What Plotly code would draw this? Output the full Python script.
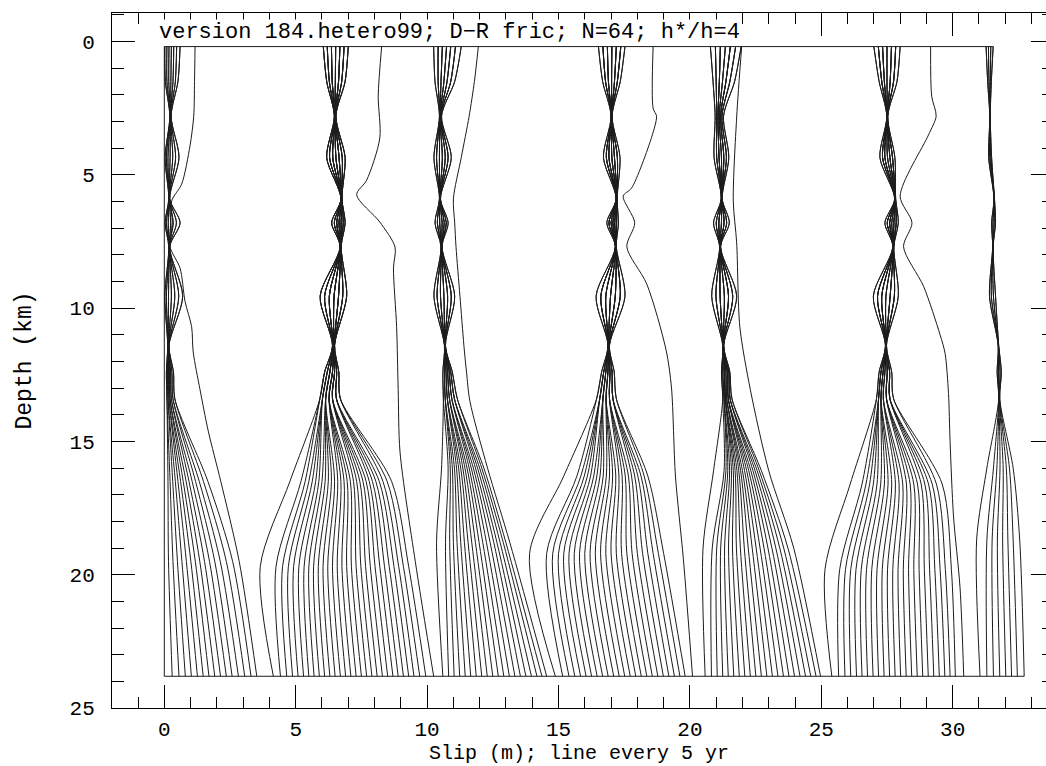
import plotly.graph_objects as go

# ---------------- data ----------------
# depth nodes (km) used by the shallow "locked" cluster profiles
profile_depths = [0.19, 1.5, 2.8, 4.35, 5.9, 6.8, 7.7, 9.55, 11.4, 12.4, 13.4]
top_depth = 0.19
bottom_depth = 23.81

# slip (m) of the lens-shaped profiles of each locked cluster, at profile_depths
cluster_A = [
    [0.02, 0.04, 0.21, 0.03, 0.17, 0.03, 0.17, 0.02, 0.13, 0.08, 0.10],
    [0.10, 0.10, 0.22, 0.08, 0.18, 0.08, 0.18, 0.08, 0.14, 0.12, 0.14],
    [0.18, 0.17, 0.23, 0.14, 0.18, 0.15, 0.18, 0.16, 0.15, 0.16, 0.18],
    [0.27, 0.25, 0.24, 0.22, 0.19, 0.24, 0.19, 0.27, 0.16, 0.20, 0.22],
    [0.36, 0.33, 0.24, 0.32, 0.19, 0.34, 0.19, 0.40, 0.16, 0.24, 0.27],
    [0.47, 0.42, 0.25, 0.43, 0.20, 0.46, 0.20, 0.55, 0.17, 0.29, 0.33],
    [0.60, 0.52, 0.26, 0.56, 0.21, 0.60, 0.21, 0.70, 0.18, 0.35, 0.40],
]
cluster_B = [
    [6.05, 6.18, 6.47, 6.18, 6.72, 6.37, 6.69, 5.93, 6.40, 6.10, 5.92],
    [6.20, 6.28, 6.48, 6.29, 6.73, 6.47, 6.70, 6.10, 6.41, 6.20, 6.02],
    [6.36, 6.39, 6.49, 6.41, 6.73, 6.56, 6.70, 6.28, 6.42, 6.30, 6.14],
    [6.52, 6.51, 6.50, 6.53, 6.74, 6.65, 6.71, 6.46, 6.44, 6.40, 6.27],
    [6.68, 6.63, 6.51, 6.65, 6.75, 6.73, 6.72, 6.63, 6.46, 6.48, 6.40],
    [6.84, 6.75, 6.52, 6.77, 6.75, 6.81, 6.72, 6.79, 6.47, 6.56, 6.55],
    [7.00, 6.88, 6.53, 6.88, 6.76, 6.88, 6.73, 6.94, 6.48, 6.64, 6.70],
]
cluster_C = [
    [10.25, 10.30, 10.47, 10.26, 10.47, 10.30, 10.53, 10.26, 10.66, 10.60, 10.62],
    [10.42, 10.42, 10.48, 10.36, 10.48, 10.39, 10.54, 10.38, 10.67, 10.66, 10.69],
    [10.58, 10.53, 10.49, 10.47, 10.48, 10.48, 10.54, 10.51, 10.67, 10.72, 10.77],
    [10.74, 10.64, 10.50, 10.58, 10.49, 10.57, 10.55, 10.64, 10.68, 10.78, 10.85],
    [10.90, 10.76, 10.52, 10.69, 10.50, 10.65, 10.56, 10.78, 10.69, 10.84, 10.94],
    [11.08, 10.90, 10.53, 10.80, 10.50, 10.73, 10.56, 10.92, 10.69, 10.90, 11.04],
    [11.30, 11.05, 10.55, 10.92, 10.51, 10.80, 10.57, 11.05, 10.70, 10.96, 11.15],
]
cluster_D = [
    [16.52, 16.68, 17.00, 16.71, 17.19, 16.84, 17.16, 16.43, 16.88, 16.64, 16.45],
    [16.69, 16.79, 17.01, 16.82, 17.20, 16.92, 17.17, 16.61, 16.89, 16.72, 16.57],
    [16.86, 16.90, 17.01, 16.92, 17.20, 17.00, 17.17, 16.80, 16.89, 16.80, 16.69],
    [17.03, 17.02, 17.02, 17.03, 17.21, 17.07, 17.18, 16.98, 16.90, 16.88, 16.81],
    [17.20, 17.13, 17.03, 17.13, 17.22, 17.14, 17.19, 17.16, 16.91, 16.96, 16.94],
    [17.37, 17.24, 17.03, 17.24, 17.22, 17.21, 17.19, 17.35, 16.93, 17.04, 17.07],
    [17.53, 17.35, 17.04, 17.34, 17.23, 17.28, 17.20, 17.53, 16.94, 17.12, 17.20],
]
cluster_E = [
    [20.78, 20.88, 20.96, 20.92, 21.19, 20.90, 21.13, 20.83, 21.25, 21.20, 21.25],
    [20.97, 21.00, 21.02, 21.02, 21.20, 21.00, 21.14, 20.99, 21.26, 21.25, 21.30],
    [21.16, 21.12, 21.07, 21.11, 21.20, 21.10, 21.14, 21.15, 21.26, 21.31, 21.35],
    [21.35, 21.24, 21.12, 21.20, 21.21, 21.20, 21.15, 21.31, 21.27, 21.37, 21.40],
    [21.54, 21.37, 21.17, 21.29, 21.22, 21.30, 21.16, 21.47, 21.27, 21.43, 21.46],
    [21.74, 21.52, 21.22, 21.39, 21.22, 21.40, 21.16, 21.63, 21.28, 21.48, 21.53],
    [21.95, 21.70, 21.28, 21.48, 21.23, 21.50, 21.17, 21.78, 21.29, 21.52, 21.60],
]
cluster_F = [
    [27.00, 27.20, 27.49, 27.23, 27.79, 27.42, 27.72, 26.98, 27.44, 27.20, 27.10],
    [27.17, 27.30, 27.50, 27.33, 27.80, 27.51, 27.73, 27.14, 27.45, 27.27, 27.18],
    [27.33, 27.40, 27.50, 27.42, 27.80, 27.60, 27.73, 27.30, 27.45, 27.35, 27.27],
    [27.50, 27.50, 27.51, 27.52, 27.81, 27.68, 27.74, 27.46, 27.46, 27.42, 27.36],
    [27.67, 27.62, 27.52, 27.61, 27.82, 27.76, 27.75, 27.62, 27.47, 27.51, 27.48],
    [27.83, 27.75, 27.52, 27.71, 27.82, 27.85, 27.75, 27.78, 27.47, 27.60, 27.61],
    [28.00, 27.88, 27.53, 27.80, 27.83, 27.93, 27.76, 27.93, 27.48, 27.68, 27.75],
]
cluster_G = [
    [31.27, 31.33, 31.41, 31.37, 31.57, 31.48, 31.52, 31.40, 31.73, 31.69, 31.75],
    [31.36, 31.38, 31.42, 31.41, 31.58, 31.53, 31.53, 31.47, 31.74, 31.74, 31.76],
    [31.45, 31.43, 31.42, 31.45, 31.58, 31.58, 31.53, 31.55, 31.74, 31.80, 31.78],
    [31.54, 31.47, 31.43, 31.48, 31.59, 31.63, 31.54, 31.63, 31.75, 31.85, 31.79],
]

# deep part of every 5-yr line of each interseismic fan:
# slip at the fan's mid depth, at its kink depth and at the bottom cell
fan_mid_depths = [16.5, 16.5, 16.0, 16.3, 16.1, 16.6, 16.0]
fan_kink_depths = [19.5, 19.7, 18.8, 19.2, 19.0, 19.8, 18.7]

fanA_mid = [0.14, 0.22, 0.32, 0.42, 0.52, 0.62, 0.72, 0.83, 0.94, 1.06, 1.19, 1.33, 1.49, 1.66]
fanA_kink = [0.16, 0.33, 0.50, 0.67, 0.84, 1.01, 1.18, 1.35, 1.53, 1.72, 1.92, 2.13, 2.36, 2.60]
fanA_bot = [0.30, 0.56, 0.80, 1.03, 1.26, 1.48, 1.70, 1.92, 2.14, 2.36, 2.58, 2.82, 3.06, 3.30]

fanB_mid = [4.78, 5.20, 5.36, 5.50, 5.63, 5.76, 5.88, 6.00, 6.12, 6.24, 6.36, 6.48, 6.60, 6.72, 6.84,
            6.96, 7.08, 7.20, 7.32, 7.44, 7.56, 7.68, 7.80, 7.92, 8.05, 8.18, 8.32, 8.48, 8.65]
fanB_kink = [3.65, 4.25, 4.50, 4.72, 4.92, 5.12, 5.32, 5.50, 5.68, 5.86, 6.04, 6.22, 6.40, 6.58, 6.76,
             6.94, 7.12, 7.30, 7.48, 7.66, 7.84, 8.02, 8.20, 8.38, 8.56, 8.74, 8.92, 9.10, 9.30]
fanB_bot = [4.15, 4.42, 4.66, 4.88, 5.09, 5.30, 5.50, 5.70, 5.90, 6.10, 6.30, 6.50, 6.70, 6.90, 7.10,
            7.30, 7.50, 7.70, 7.90, 8.10, 8.30, 8.50, 8.70, 8.90, 9.10, 9.30, 9.50, 9.72, 9.95]

fanC_mid = [10.55, 10.80, 10.88, 10.96, 11.04, 11.12, 11.20, 11.28, 11.36, 11.44, 11.52, 11.60,
            11.68, 11.76, 11.84, 11.92, 12.00, 12.08, 12.16]
fanC_kink = [10.36, 10.70, 10.86, 11.00, 11.14, 11.28, 11.42, 11.56, 11.70, 11.84, 11.98, 12.12,
             12.26, 12.40, 12.54, 12.66, 12.78, 12.90, 13.00]
fanC_bot = [10.60, 10.82, 11.03, 11.24, 11.45, 11.66, 11.87, 12.08, 12.29, 12.50, 12.71, 12.92,
            13.13, 13.34, 13.55, 13.76, 13.97, 14.18, 14.37]

fanD_mid = [15.20, 15.70, 15.85, 15.98, 16.10, 16.22, 16.34, 16.46, 16.58, 16.70, 16.82, 16.94,
            17.06, 17.18, 17.30, 17.42, 17.54, 17.66, 17.78, 17.90, 18.02, 18.14, 18.26, 18.40]
fanD_kink = [13.90, 14.55, 14.78, 15.00, 15.20, 15.40, 15.60, 15.80, 16.00, 16.20, 16.40, 16.60,
             16.80, 17.00, 17.20, 17.40, 17.60, 17.80, 18.00, 18.20, 18.40, 18.60, 18.80, 19.00]
fanD_bot = [14.88, 15.16, 15.40, 15.62, 15.84, 16.05, 16.26, 16.47, 16.68, 16.89, 17.10, 17.31,
            17.52, 17.73, 17.94, 18.15, 18.36, 18.57, 18.78, 18.99, 19.20, 19.41, 19.62, 19.82]

fanE_mid = [20.90, 21.30, 21.37, 21.44, 21.51, 21.58, 21.65, 21.72, 21.79, 21.86, 21.93, 22.00,
            22.08, 22.16, 22.24, 22.32, 22.40, 22.48, 22.56, 22.64, 22.72]
fanE_kink = [20.50, 20.85, 21.02, 21.17, 21.32, 21.47, 21.62, 21.77, 21.92, 22.07, 22.22, 22.37,
             22.52, 22.67, 22.82, 22.97, 23.12, 23.27, 23.42, 23.57, 23.73]
fanE_bot = [20.58, 20.82, 21.04, 21.25, 21.46, 21.67, 21.88, 22.09, 22.30, 22.51, 22.72, 22.93,
            23.14, 23.35, 23.56, 23.77, 23.98, 24.19, 24.40, 24.60, 24.80]

fanF_mid = [26.10, 26.55, 26.70, 26.84, 26.98, 27.12, 27.26, 27.40, 27.54, 27.68, 27.82, 27.96,
            28.10, 28.24, 28.38, 28.52, 28.66, 28.80, 28.94, 29.08, 29.22, 29.38, 29.60]
fanF_kink = [25.14, 25.70, 25.92, 26.12, 26.32, 26.52, 26.72, 26.92, 27.12, 27.32, 27.52, 27.72,
             27.92, 28.12, 28.32, 28.52, 28.72, 28.92, 29.12, 29.32, 29.52, 29.72, 29.95]
fanF_bot = [25.40, 25.66, 25.90, 26.12, 26.34, 26.55, 26.76, 26.97, 27.18, 27.39, 27.60, 27.81,
            28.02, 28.23, 28.44, 28.65, 28.86, 29.07, 29.28, 29.49, 29.70, 29.90, 30.10]

fanG_mid = [31.30, 31.55, 31.68, 31.80, 31.92, 32.04, 32.16, 32.30]
fanG_kink = [30.91, 31.30, 31.50, 31.70, 31.90, 32.10, 32.30, 32.55]
fanG_bot = [31.04, 31.30, 31.55, 31.79, 32.02, 32.24, 32.46, 32.72]

# individual lines that leave the clusters (initial line, precursors, partial events)
initial_depth = [0.19, 23.81]
initial_slip = [0.0, 0.0]
precursorA_depth = [0.19, 1.5, 2.8, 3.9, 5.35, 5.98, 6.8, 7.7, 8.5, 9.75, 10.7, 11.65, 13.06, 14.6, 16.5, 19.5, 23.81]
precursorA_slip = [1.17, 1.15, 1.12, 0.98, 0.66, 0.28, 0.30, 0.22, 0.60, 0.79, 1.04, 1.10, 1.36, 1.67, 2.15, 2.85, 3.52]
transitB_depth = [0.19, 2.05, 3.62, 5.2, 5.75, 6.77, 7.71, 8.5, 10.7, 13.06, 15.4, 19.5, 23.81]
transitB_slip = [8.27, 8.14, 8.20, 7.70, 7.32, 8.20, 8.78, 8.72, 8.84, 8.90, 8.97, 9.55, 10.25]
precursorC_depth = [0.19, 1.5, 2.8, 4.35, 5.9, 6.8, 7.7, 9.55, 11.4, 12.4, 13.5, 16.0, 18.8, 23.81]
precursorC_slip = [11.95, 11.80, 11.60, 11.30, 11.00, 11.05, 11.10, 11.25, 11.40, 11.50, 11.63, 12.30, 13.15, 14.55]
transitD_depth = [0.19, 2.5, 2.8, 3.6, 5.5, 5.8, 6.8, 7.7, 9.1, 11.6, 13.0, 16.3, 19.4, 23.81]
transitD_slip = [18.60, 18.60, 18.73, 18.54, 17.78, 17.46, 17.90, 17.60, 18.36, 19.10, 19.30, 19.45, 19.75, 20.10]
precursorE_depth = [0.19, 2.83, 5.98, 7.55, 10.7, 13.06, 16.1, 19.0, 23.81]
precursorE_slip = [21.97, 21.78, 21.65, 21.78, 21.90, 22.30, 23.00, 23.95, 24.97]
transitF_depth = [0.19, 2.05, 2.8, 3.5, 5.8, 6.8, 7.7, 9.18, 11.0, 11.7, 13.2, 15.0, 17.8, 20.5, 23.81]
transitF_slip = [29.16, 29.20, 29.37, 29.08, 28.00, 28.45, 28.13, 28.89, 29.52, 29.71, 29.84, 29.90, 30.03, 30.28, 30.42]

x_major_ticks = [0, 5, 10, 15, 20, 25, 30]
y_major_ticks = [0, 5, 10, 15, 20, 25]
title_text = "version 184.hetero99; D\u2212R fric; N=64; h*/h=4"
x_title = "Slip (m); line every 5 yr"
y_title = "Depth (km)"

# ---------------- build the polylines ----------------
fans = [
    (cluster_A, fanA_mid, fanA_kink, fanA_bot),
    (cluster_B, fanB_mid, fanB_kink, fanB_bot),
    (cluster_C, fanC_mid, fanC_kink, fanC_bot),
    (cluster_D, fanD_mid, fanD_kink, fanD_bot),
    (cluster_E, fanE_mid, fanE_kink, fanE_bot),
    (cluster_F, fanF_mid, fanF_kink, fanF_bot),
    (cluster_G, fanG_mid, fanG_kink, fanG_bot),
]
singles = [
    (initial_depth, initial_slip),
    (precursorA_depth, precursorA_slip),
    (transitB_depth, transitB_slip),
    (precursorC_depth, precursorC_slip),
    (transitD_depth, transitD_slip),
    (precursorE_depth, precursorE_slip),
    (transitF_depth, transitF_slip),
]

xs, ys = [], []
tops, bots = [], []
for k, (cluster, mids, kinks, bts) in enumerate(fans):
    n = len(bts)
    p = len(cluster)
    for j in range(n):
        prof = cluster[round(j * (p - 1) / max(n - 1, 1))]
        xs += prof + [mids[j], kinks[j], bts[j], None]
        ys += profile_depths + [fan_mid_depths[k], fan_kink_depths[k], bottom_depth, None]
        tops.append(prof[0])
        bots.append(bts[j])
for d, s in singles:
    xs += s + [None]
    ys += d + [None]
    tops.append(s[0])
    bots.append(s[-1])

line_col = "#1c1c1c"
fig = go.Figure()
fig.add_trace(go.Scatter(
    x=xs, y=ys, mode="lines", line=dict(color=line_col, width=1, shape="spline", smoothing=0.8),
    hoverinfo="skip", showlegend=False, connectgaps=False))
# pen connectors along the top and bottom cells
fig.add_trace(go.Scatter(
    x=[min(tops), max(tops), None, min(bots), max(bots)],
    y=[top_depth, top_depth, None, bottom_depth, bottom_depth],
    mode="lines", line=dict(color=line_col, width=1), hoverinfo="skip", showlegend=False))
# invisible trace carrying the right-hand tick axis
fig.add_trace(go.Scatter(x=[None], y=[None], yaxis="y2", mode="lines", showlegend=False, hoverinfo="skip"))

FONT = "Liberation Mono"
fig.update_layout(
    width=1046, height=766,
    margin=dict(l=112, r=0, t=13, b=58),
    paper_bgcolor="white", plot_bgcolor="white",
    font=dict(family=FONT, size=21, color="black"),
    xaxis=dict(range=[-1.99, 33.55], showgrid=False, zeroline=False,
               showline=True, linecolor="black", linewidth=1, mirror="ticks",
               ticks="inside", ticklen=23, tickwidth=1, tickcolor="black",
               tickvals=x_major_ticks, ticklabelstandoff=2,
               tickfont=dict(family=FONT, size=21),
               minor=dict(dtick=1, tick0=0, ticks="inside", ticklen=11, tickcolor="black", showgrid=False)),
    yaxis=dict(range=[25, -1.07], showgrid=False, zeroline=False,
               showline=True, linecolor="black", linewidth=1, mirror=False,
               ticks="inside", ticklen=23, tickwidth=1, tickcolor="black",
               tickvals=y_major_ticks, ticklabelstandoff=12,
               tickfont=dict(family=FONT, size=21),
               minor=dict(dtick=1, tick0=0, ticks="inside", ticklen=12, tickcolor="black", showgrid=False)),
    yaxis2=dict(range=[25, -1.07], overlaying="y", side="right", showgrid=False, zeroline=False,
                showline=False, showticklabels=False,
                ticks="inside", ticklen=15, tickwidth=1, tickcolor="black", tickvals=y_major_ticks,
                minor=dict(dtick=1, tick0=0, ticks="inside", ticklen=4, tickcolor="black", showgrid=False)),
    annotations=[
        dict(text=title_text, xref="x", yref="y", x=-0.24, y=top_depth, xanchor="left", yanchor="bottom",
             yshift=1, showarrow=False, bgcolor="white", borderpad=0,
             font=dict(family=FONT, size=22, color="black")),
        dict(text=x_title, xref="paper", yref="paper", x=0.5, y=0, xanchor="center", yanchor="middle",
             yshift=-45, showarrow=False, font=dict(family=FONT, size=20, color="black")),
        dict(text=y_title, xref="paper", yref="paper", x=0, y=0.5, xanchor="center", yanchor="middle",
             xshift=-88, textangle=-90, showarrow=False, font=dict(family=FONT, size=23, color="black")),
    ],
)

fig.write_html("out.html")
